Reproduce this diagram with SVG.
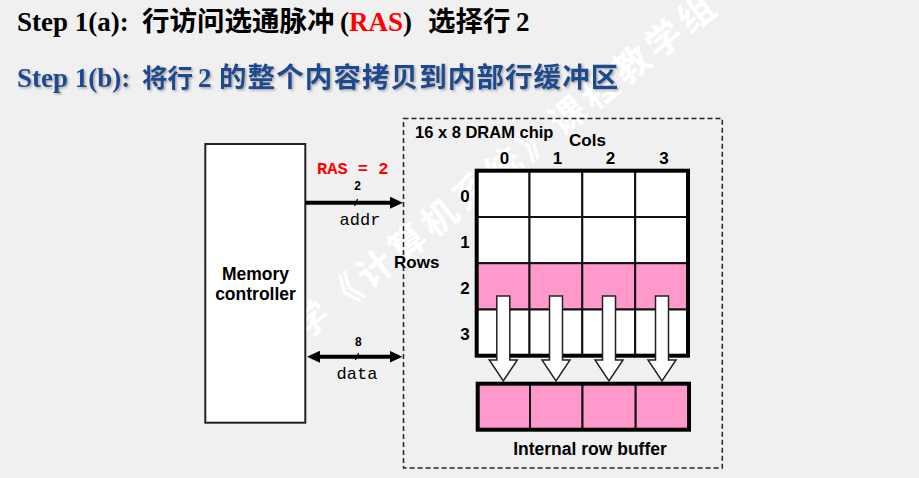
<svg xmlns="http://www.w3.org/2000/svg" width="919" height="478" viewBox="0 0 919 478">
  <defs>
    <style>
      .lat{font-family:"Liberation Serif","Times New Roman",serif;font-weight:bold;font-size:27px}
      .cjk{font-family:"Noto Sans CJK SC","Noto Sans",sans-serif;font-weight:bold;font-size:27.5px}
      .lbl{font-family:"Liberation Sans",Arial,sans-serif;font-weight:bold;font-size:17px;fill:#000}
      .mono{font-family:"Liberation Mono","Courier New",monospace;font-size:17px;fill:#000}
      .tiny{font-family:"Liberation Sans",Arial,sans-serif;font-weight:bold;font-size:12px;fill:#000}
      .cell{fill:#fff;stroke:#111;stroke-width:2}
      .pink{fill:#ff99cc}
      .frame{fill:none;stroke:#000;stroke-width:4}
      .drop{fill:#fff;stroke:#222;stroke-width:1.5}
      .wire{stroke:#000;stroke-width:4;fill:none}
      .tick{stroke:#000;stroke-width:1.2}
      .wm{font-family:"Noto Sans CJK SC",sans-serif;font-weight:bold;font-size:36px;letter-spacing:5px;fill:#fff}
    </style>
    <marker id="ah" viewBox="0 0 13 12" refX="1" refY="6" markerWidth="13" markerHeight="12" markerUnits="userSpaceOnUse" orient="auto-start-reverse">
      <path d="M0,0 L13,6 L0,12 z" fill="#000"/>
    </marker>
    <filter id="shadow" x="-5%" y="-20%" width="110%" height="140%">
      <feDropShadow dx="1.5" dy="1.5" stdDeviation="0.8" flood-color="#777" flood-opacity="0.6"/>
    </filter>
  </defs>

  <!-- page background -->
  <rect x="0" y="0" width="919" height="478" fill="#f0f0f0"/>

  <!-- course watermark -->
  <text class="wm" x="305" y="341" transform="rotate(-38.5 305 341)">学《计算机系统》课程教学组</text>

  <!-- headings -->
  <g id="heading-a">
    <text y="31" fill="#000"><tspan class="lat" x="17">Step 1(a):</tspan><tspan class="cjk" x="142">行访问选通脉冲</tspan><tspan class="lat" x="340">(</tspan><tspan class="lat" fill="#ff0000">RAS</tspan><tspan class="lat">)</tspan><tspan class="cjk" x="428">选择行</tspan><tspan class="lat" x="516">2</tspan></text>
  </g>
  <g id="heading-b" filter="url(#shadow)">
    <text y="87" fill="#1a4a8f"><tspan class="lat" x="17">Step 1(b):</tspan><tspan class="cjk" x="142" style="font-size:25.5px">将行</tspan><tspan class="lat" x="198">2</tspan><tspan class="cjk" x="219" style="letter-spacing:1.1px">的整个内容拷贝到内部行缓冲区</tspan></text>
  </g>

  <!-- memory controller -->
  <g id="controller">
    <rect x="205.3" y="144" width="100" height="278.7" fill="#fff" stroke="#222" stroke-width="2"/>
    <text class="lbl" x="255.5" y="279.5" text-anchor="middle" style="font-size:17.5px">Memory</text>
    <text class="lbl" x="255.5" y="300" text-anchor="middle" style="font-size:17.5px">controller</text>
  </g>

  <!-- DRAM chip boundary -->
  <g id="chip">
    <rect x="403.5" y="118.5" width="318.8" height="349.5" fill="none" stroke="#222" stroke-width="1.5" stroke-dasharray="5,3"/>
    <text class="lbl" x="415" y="138" style="font-size:16.5px">16 x 8 DRAM chip</text>
    <text class="lbl" x="569" y="146">Cols</text>
    <text class="lbl" x="504.5" y="164" text-anchor="middle">0</text>
    <text class="lbl" x="557.5" y="164" text-anchor="middle">1</text>
    <text class="lbl" x="610.5" y="164" text-anchor="middle">2</text>
    <text class="lbl" x="664" y="164" text-anchor="middle">3</text>
    <text class="lbl" x="394" y="267.5">Rows</text>
    <text class="lbl" x="465" y="201.5" text-anchor="middle">0</text>
    <text class="lbl" x="465" y="248" text-anchor="middle">1</text>
    <text class="lbl" x="465" y="294" text-anchor="middle">2</text>
    <text class="lbl" x="465" y="340" text-anchor="middle">3</text>
  </g>

  <!-- 4 x 4 cell array, row 2 selected -->
  <g id="array">
    <rect class="cell" x="476.7" y="170.7" width="52.8" height="46.3"/>
    <rect class="cell" x="529.5" y="170.7" width="52.8" height="46.3"/>
    <rect class="cell" x="582.3" y="170.7" width="52.9" height="46.3"/>
    <rect class="cell" x="635.2" y="170.7" width="52.8" height="46.3"/>
    <rect class="cell" x="476.7" y="217" width="52.8" height="46.2"/>
    <rect class="cell" x="529.5" y="217" width="52.8" height="46.2"/>
    <rect class="cell" x="582.3" y="217" width="52.9" height="46.2"/>
    <rect class="cell" x="635.2" y="217" width="52.8" height="46.2"/>
    <rect class="cell pink" x="476.7" y="263.2" width="52.8" height="46.3"/>
    <rect class="cell pink" x="529.5" y="263.2" width="52.8" height="46.3"/>
    <rect class="cell pink" x="582.3" y="263.2" width="52.9" height="46.3"/>
    <rect class="cell pink" x="635.2" y="263.2" width="52.8" height="46.3"/>
    <rect class="cell" x="476.7" y="309.5" width="52.8" height="46.2"/>
    <rect class="cell" x="529.5" y="309.5" width="52.8" height="46.2"/>
    <rect class="cell" x="582.3" y="309.5" width="52.9" height="46.2"/>
    <rect class="cell" x="635.2" y="309.5" width="52.8" height="46.2"/>
    <rect class="frame" x="476.7" y="170.7" width="211.3" height="185"/>
  </g>

  <!-- internal row buffer -->
  <g id="row-buffer">
    <rect class="cell pink" x="477.7" y="383.7" width="52.3" height="46"/>
    <rect class="cell pink" x="530" y="383.7" width="52.5" height="46"/>
    <rect class="cell pink" x="582.5" y="383.7" width="53.2" height="46"/>
    <rect class="cell pink" x="635.7" y="383.7" width="53.3" height="46"/>
    <rect class="frame" x="477.7" y="383.7" width="211.3" height="46"/>
    <text class="lbl" x="590" y="455" text-anchor="middle" style="font-size:17.5px">Internal row buffer</text>
  </g>

  <!-- connectors -->
  <g id="connectors">
    <!-- address bus -->
    <line class="wire" x1="305.3" y1="202.7" x2="391" y2="202.7" marker-end="url(#ah)"/>
    <line class="tick" x1="354.5" y1="206" x2="357.5" y2="199"/>
    <text class="mono" x="317" y="174" style="fill:#ff0000;font-weight:bold">RAS = 2</text>
    <text class="tiny" x="357.5" y="190" text-anchor="middle">2</text>
    <text class="mono" x="360" y="225" text-anchor="middle">addr</text>

    <!-- data bus -->
    <line class="wire" x1="319" y1="356.7" x2="390.5" y2="356.7" marker-start="url(#ah)" marker-end="url(#ah)"/>
    <line class="tick" x1="355.5" y1="360" x2="358.5" y2="353"/>
    <text class="tiny" x="358.3" y="346" text-anchor="middle">8</text>
    <text class="mono" x="357" y="378.5" text-anchor="middle">data</text>

    <!-- row copy into buffer -->
    <polygon class="drop" points="496.8,296 509.8,296 509.8,360 517.3,360 503.3,381 489.3,360 496.8,360"/>
    <polygon class="drop" points="549.5,296 562.5,296 562.5,360 570,360 556,381 542,360 549.5,360"/>
    <polygon class="drop" points="602.5,296 615.5,296 615.5,360 623,360 609,381 595,360 602.5,360"/>
    <polygon class="drop" points="655.5,296 668.5,296 668.5,360 676,360 662,381 648,360 655.5,360"/>
  </g>
</svg>
